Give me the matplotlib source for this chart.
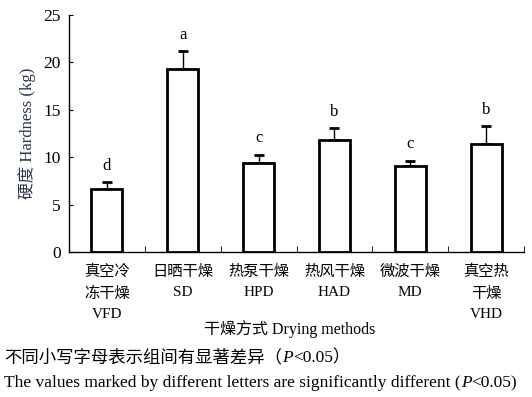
import matplotlib
matplotlib.use('Agg')
import matplotlib.pyplot as plt
import numpy as np

# data
labels = ['真空冷\n冻干燥\nVFD', '日晒干燥\nSD', '热泵干燥\nHPD', '热风干燥\nHAD',
          '微波干燥\nMD', '真空热\n干燥\nVHD']
hardness = [6.65, 19.3, 9.42, 11.8, 9.1, 11.4]
errors = [0.73, 1.9, 0.84, 1.3, 0.53, 1.9]
letters = ['d', 'a', 'c', 'b', 'c', 'b']

FONT = ['Liberation Serif', 'Noto Sans CJK SC', 'DejaVu Sans']
plt.rcParams['font.family'] = FONT

fig = plt.figure(figsize=(5.32, 3.97), dpi=100)
ax = fig.add_axes([0.1297, 0.365, 0.8553, 0.597])

x = np.arange(len(hardness))
ax.bar(x, hardness, width=0.41, color='white', edgecolor='black', linewidth=2, zorder=2)
ax.errorbar(x, hardness, yerr=[np.zeros(len(errors)), errors], fmt='none',
            ecolor='black', elinewidth=1, capsize=3.5, capthick=2, zorder=1)

for xi, h, e, t in zip(x, hardness, errors, letters):
    ax.annotate(t, (xi, h + e), xytext=(0, 6), textcoords='offset points',
                ha='center', va='bottom', fontsize=12)

ax.set_xlim(-0.5, len(hardness) - 0.5)
ax.set_ylim(0, 25)
ax.set_yticks([0, 5, 10, 15, 20, 25])
ax.tick_params(axis='y', direction='in', length=3, labelsize=12.5, pad=6)

# category separators as minor ticks, labels at centers
ax.set_xticks(x)
ax.set_xticklabels(labels, fontsize=11, linespacing=1.72, va='top')
ax.set_xticks(np.arange(0.5, len(hardness)), minor=True)
ax.tick_params(axis='x', which='major', length=0, pad=9)
ax.tick_params(axis='x', which='minor', direction='in', length=4)

for s in ['top', 'right']:
    ax.spines[s].set_visible(False)
for s in ['left', 'bottom']:
    ax.spines[s].set_linewidth(1)

ax.set_ylabel('硬度 Hardness (kg)', fontsize=12, color='#2b3550', labelpad=5)

fig.text(0.545, 0.170, '干燥方式 Drying methods', ha='center', va='center', fontsize=11.5)

# footnote lines with italic P, drawn piece by piece
renderer = fig.canvas.get_renderer()


def text_row(x0, y0, pieces, size):
    xpos = x0
    for s, style in pieces:
        t = fig.text(xpos, y0, s, ha='left', va='baseline', fontsize=size, style=style)
        bb = t.get_window_extent(renderer)
        xpos = fig.transFigure.inverted().transform((bb.x1, bb.y0))[0]


text_row(0.008, 0.087, [('不同小写字母表示组间有显著差异（', 'normal'), ('P', 'italic'),
                        ('<0.05）', 'normal')], 12.5)
text_row(0.008, 0.025, [('The values marked by different letters are significantly different (', 'normal'),
                        ('P', 'italic'), ('<0.05)', 'normal')], 12.5)

fig.savefig('out.png', dpi=100)
